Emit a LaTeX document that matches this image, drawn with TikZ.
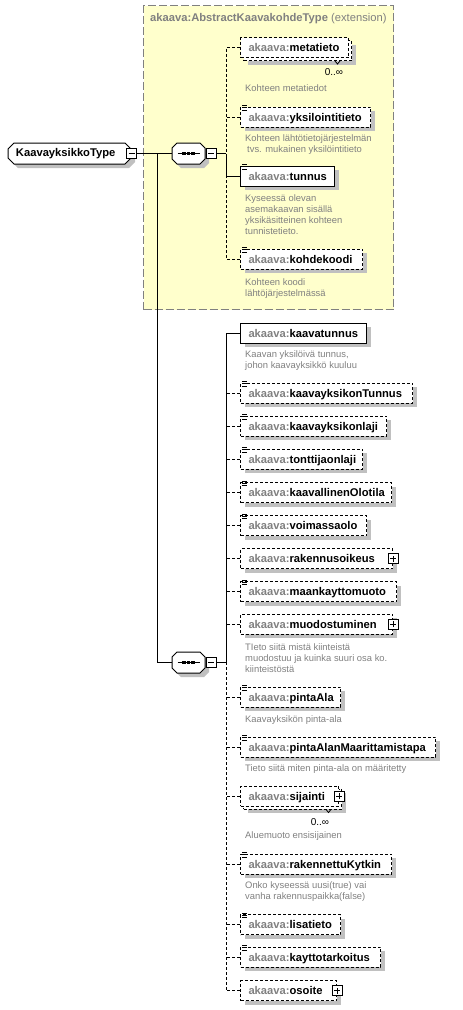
\documentclass[tikz,border=0pt]{standalone}
\usepackage{fontspec}
\setmainfont{Liberation Sans}
\usepackage{tikz}
\usetikzlibrary{positioning,shapes.misc,shadows}
\definecolor{xyellow}{RGB}{255,255,204}
\definecolor{xgray}{RGB}{128,128,128}
\definecolor{xdesc}{RGB}{128,128,128}
\definecolor{xshadow}{RGB}{192,192,192}
\newcommand{\elfont}{\fontsize{11.2}{13}\selectfont\bfseries}
\newcommand{\dsfont}{\fontsize{9.4}{11}\selectfont}
\newcommand{\ak}[1]{\mbox{\textcolor{xgray}{akaava:}#1}}
\newcommand{\simicon}[1]{\foreach \dy in {1,-1.2,-3.4}
  \draw[line width=0.7pt] ([xshift=2pt,yshift=\dy pt]#1.north west) -- ++(5,0);}
\newcommand{\seqdots}[1]{\draw[wire] ([xshift=-11pt]#1.center) -- ([xshift=11pt]#1.center);
  \foreach \dx in {-4.5,0,4.5}
    \fill[black] ([xshift=\dx pt]#1.center) +(-1.6,-1.6) rectangle +(1.6,1.6);}
\tikzset{
  shd/.style     ={drop shadow={shadow xshift=4pt, shadow yshift=-4pt,
                   fill=xshadow, opacity=1}},
  elembase/.style={rectangle, draw=black, fill=white, line width=1pt, anchor=west,
                   minimum height=20pt, inner xsep=8pt, inner ysep=0pt,
                   text height=9pt, text depth=1pt, text width=#1, align=left,
                   font=\elfont},
  req/.style     ={elembase=#1, shd},
  opt/.style     ={elembase=#1, shd, dash pattern=on 3pt off 2pt},
  optfront/.style={elembase=#1, dash pattern=on 3pt off 2pt},
  tgl/.style     ={rectangle, draw=black, fill=white, line width=0.8pt,
                   minimum size=10pt, inner sep=0pt},
  tminus/.style  ={tgl, path picture={\draw[black, line width=0.8pt]
                   ([xshift=-3pt]path picture bounding box.center) --
                   ([xshift=3pt]path picture bounding box.center);}},
  tplus/.style   ={tgl, path picture={\draw[black, line width=0.8pt]
                   ([xshift=-3pt]path picture bounding box.center) --
                   ([xshift=3pt]path picture bounding box.center)
                   ([yshift=-3pt]path picture bounding box.center) --
                   ([yshift=3pt]path picture bounding box.center);}},
  seqbox/.style  ={chamfered rectangle, chamfered rectangle xsep=6pt,
                   chamfered rectangle ysep=5pt, draw=black, fill=white,
                   line width=1pt, minimum width=33pt, minimum height=21pt,
                   inner sep=0pt, shd},
  typebox/.style ={chamfered rectangle, chamfered rectangle xsep=3pt,
                   chamfered rectangle ysep=3pt, draw=black, fill=white,
                   line width=1pt, minimum width=117pt, minimum height=21pt,
                   inner xsep=5pt, inner ysep=0pt, font=\elfont, shd},
  extbox/.style  ={rectangle, draw=xgray, fill=xyellow, line width=1pt,
                   dash pattern=on 8pt off 3pt, anchor=north west,
                   minimum width=250pt, minimum height=304pt, inner sep=0pt},
  desc/.style    ={anchor=north west, inner sep=0pt, align=left, font=\dsfont,
                   text=xdesc},
  mult/.style    ={inner sep=0pt, font=\fontsize{10}{12}\selectfont},
  wire/.style    ={line width=1pt, draw=black},
  dwire/.style   ={wire, dash pattern=on 3pt off 2pt}
}
\begin{document}
\begin{tikzpicture}[x=1pt,y=-1pt]
\useasboundingbox (0,0) rectangle (463,1010);

% extension base
\node[extbox] (ext) at (143,5) {};
\node[anchor=west, inner sep=0pt, font=\elfont, text=xgray] (exttitle) at (150,19)
  {akaava:AbstractKaavakohdeType \textmd{(extension)}};

% type and sequences
\node[typebox] (kyt) at (69.5,153.5) {\makebox[107pt][l]{KaavayksikkoType}};
\node[tminus] (kytm) at (kyt.east) {};
\node[seqbox] (seq1) at (188.5,153.5) {\rule{21pt}{0pt}};
\seqdots{seq1}
\node[tminus, right=0pt of seq1] (seq1m) {};
\node[seqbox] (seq2) at (188.5,662.5) {\rule{21pt}{0pt}};
\seqdots{seq2}
\node[tminus, right=0pt of seq2] (seq2m) {};
\coordinate (j)  at (157,153.5);
\coordinate (c1) at (226,153.5);
\coordinate (c2) at (226,662.5);

% inherited elements
\node[opt=92pt] (metaback) at (243,50.5) {};
\node[optfront=92pt] (meta) at (240,47.5) {\ak{metatieto}};
\draw[line width=0.8pt] ([xshift=-17pt]metaback.south east) -- ++(2.5,3) -- ++(2.5,-3);
\node[mult] (metam) at (334,72) {0..∞};
\node[desc] (metad) at (245,84.5) {Kohteen metatiedot};

\node[opt=114pt] (yksi) at (240,117) {\ak{yksilointitieto}};
\simicon{yksi}
\node[desc] (yksid) at (245,134.5)
  {Kohteen lähtötietojärjestelmän\\\hspace*{2pt}tvs. mukainen yksilöintitieto};

\node[req=78pt] (tunnus) at (240,176) {\ak{tunnus}};
\simicon{tunnus}
\node[desc] (tunnusd) at (245,194.5)
  {Kyseessä olevan\\asemakaavan sisällä\\yksikäsitteinen kohteen\\tunnistetieto.};

\node[opt=106pt] (kohde) at (240,259) {\ak{kohdekoodi}};
\simicon{kohde}
\node[desc] (kohded) at (245,278.5) {Kohteen koodi\\lähtöjärjestelmässä};

% own elements
\node[req=110pt] (kaavat) at (240,333) {\ak{kaavatunnus}};
\node[desc] (kaavatd) at (245,350.5) {Kaavan yksilöivä tunnus,\\johon kaavayksikkö kuuluu};

\node[opt=156pt] (kytun) at (240,393) {\ak{kaavayksikonTunnus}};
\simicon{kytun}
\node[opt=130pt] (kylaji) at (240,426) {\ak{kaavayksikonlaji}};
\simicon{kylaji}
\node[opt=106pt] (tonlaji) at (240,459) {\ak{tonttijaonlaji}};
\simicon{tonlaji}
\node[opt=135pt] (olotila) at (240,492.5) {\ak{kaavallinenOlotila}};
\simicon{olotila}
\node[opt=110pt] (voim) at (240,525.5) {\ak{voimassaolo}};
\simicon{voim}
\node[opt=136pt] (rakoik) at (240,558.5) {\ak{rakennusoikeus}};
\node[tplus] (rakoikp) at (rakoik.east) {};
\node[opt=140pt] (maank) at (240,591.5) {\ak{maankayttomuoto}};
\simicon{maank}
\node[opt=136pt] (muod) at (240,624) {\ak{muodostuminen}};
\node[tplus] (muodp) at (muod.east) {};
\node[desc] (muodd) at (245,643.5)
  {TIeto siitä mistä kiinteistä\\muodostuu ja kuinka suuri osa ko.\\kiinteistöstä};

\node[opt=84pt] (pala) at (240,697) {\ak{pintaAla}};
\simicon{pala}
\node[desc] (palad) at (245,715.5) {Kaavayksikön pinta-ala};

\node[opt=179pt] (palam) at (240,747) {\ak{pintaAlanMaarittamistapa}};
\simicon{palam}
\node[desc] (palamd) at (245,764.5) {Tieto siitä miten pinta-ala on määritetty};

\node[opt=82pt] (sijback) at (243,799) {};
\node[optfront=82pt] (sij) at (240,796) {\ak{sijainti}};
\node[tplus] (sijp) at (sij.east) {};
\draw[line width=0.8pt] ([xshift=-16pt]sijback.south east) -- ++(2.5,3) -- ++(2.5,-3);
\node[mult] (sijm) at (320,822) {0..∞};
\node[desc] (sijd) at (245,831.5) {Aluemuoto ensisijainen};

\node[opt=135pt] (rakk) at (240,864) {\ak{rakennettuKytkin}};
\simicon{rakk}
\node[desc] (rakkd) at (245,881.5) {Onko kyseessä uusi(true) vai\\vanha rakennuspaikka(false)};

\node[opt=84pt] (lisa) at (240,924.5) {\ak{lisatieto}};
\simicon{lisa}
\node[opt=124pt] (kaytt) at (240,957) {\ak{kayttotarkoitus}};
\simicon{kaytt}
\node[opt=80pt] (osoite) at (240,990.5) {\ak{osoite}};
\node[tplus] (osoitep) at (osoite.east) {};

% connectors
\draw[wire] (kytm.east) -- (seq1.west);
\draw[wire] (j) |- (seq2.west);
\draw[wire] (seq1m.east) -- (c1);
\draw[dwire] (meta.west) -| (c1);
\draw[dwire] (yksi.west) -- (yksi.west -| c1);
\draw[wire] (tunnus.west) -| (c1);
\draw[dwire] (kohde.west) -| (tunnus.west -| c1);

\draw[wire] (seq2m.east) -- (c2);
\draw[wire] (kaavat.west) -| (c2);
\draw[dwire] (osoite.west) -| (c2);
\foreach \n in {kytun,kylaji,tonlaji,olotila,voim,rakoik,maank,muod,pala,palam,sij,rakk,lisa,kaytt}
  \draw[dwire] (\n.west) -- (\n.west -| c2);
\end{tikzpicture}
\end{document}
